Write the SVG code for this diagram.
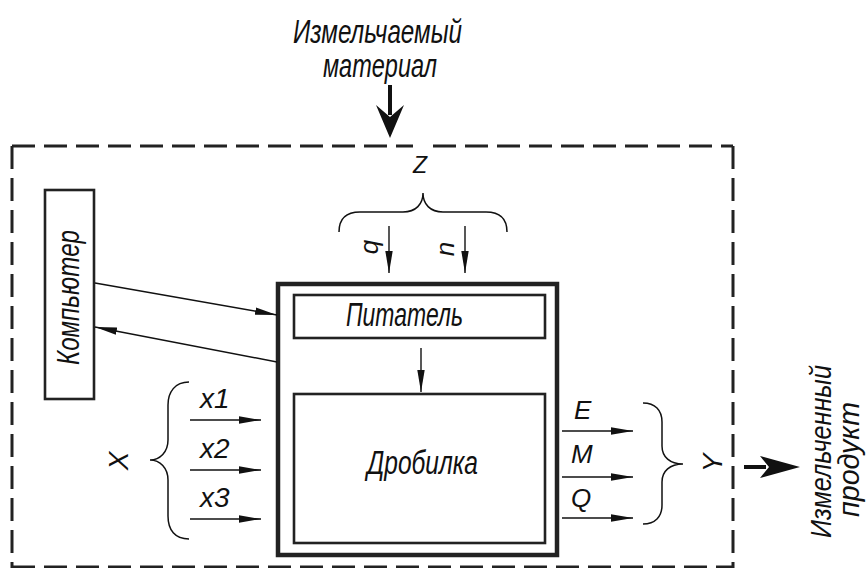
<svg xmlns="http://www.w3.org/2000/svg" width="867" height="568" viewBox="0 0 867 568">
  <style>
    .lbl { font-family: "Liberation Sans", "DejaVu Sans", sans-serif; font-style: italic; fill: #111; }
    .box { fill: none; stroke: #222; }
    .thin { fill: none; stroke: #111; stroke-width: 1.4; }
    .brace { fill: none; stroke: #111; stroke-width: 1.5; }
    .dash { fill: none; stroke: #222; stroke-width: 3; stroke-dasharray: 23 9; }
  </style>
  <defs>
    <marker id="head" markerUnits="userSpaceOnUse" markerWidth="24" markerHeight="8" refX="22" refY="4" orient="auto">
      <path d="M0,0.3 L22,4 L0,7.7 z" fill="#111"/>
    </marker>
  </defs>
  <rect width="867" height="568" fill="#fff"/>

  <!-- system boundary (dashed) -->
  <g id="boundary">
    <line class="dash" x1="12" y1="146" x2="413" y2="146"/>
    <line class="dash" x1="433" y1="146" x2="733" y2="146" stroke-dasharray="7 9 23 9"/>
    <line class="dash" x1="12" y1="146" x2="12" y2="568"/>
    <line class="dash" x1="733" y1="146" x2="733" y2="568"/>
    <line class="dash" x1="12" y1="567" x2="733" y2="567"/>
  </g>

  <!-- input material -->
  <g id="input-material">
    <text class="lbl" x="293" y="43" font-size="33" textLength="169" lengthAdjust="spacingAndGlyphs">Измельчаемый</text>
    <text class="lbl" x="323" y="77" font-size="33" textLength="114" lengthAdjust="spacingAndGlyphs">материал</text>
    <line x1="390" y1="85" x2="390" y2="115" stroke="#111" stroke-width="4"/>
    <path d="M390,138 L376,105 L390,117 L404,105 z" fill="#111"/>
  </g>

  <!-- computer -->
  <g id="computer">
    <rect class="box" x="45" y="190" width="49" height="209" stroke-width="2.6"/>
    <text class="lbl" font-size="31" textLength="135" lengthAdjust="spacingAndGlyphs" transform="translate(79,365) rotate(-90)">Компьютер</text>
  </g>

  <!-- crushing unit housing -->
  <g id="unit">
    <rect class="box" x="278" y="284" width="279" height="271" stroke-width="4.5"/>
  </g>

  <!-- feeder -->
  <g id="feeder">
    <rect class="box" x="294" y="295" width="251" height="43" stroke-width="2.6"/>
    <text class="lbl" x="346" y="326" font-size="33" textLength="117" lengthAdjust="spacingAndGlyphs">Питатель</text>
  </g>

  <!-- crusher -->
  <g id="crusher">
    <rect class="box" x="294" y="394" width="251" height="149" stroke-width="2.6"/>
    <text class="lbl" x="367" y="474" font-size="33" textLength="111" lengthAdjust="spacingAndGlyphs">Дробилка</text>
  </g>

  <!-- control parameters Z -->
  <g id="params-z">
    <text class="lbl" x="413" y="173" font-size="23">Z</text>
    <path class="brace" d="M339,232 C339,218 346,212 360,212 L403,212 C416,212 423,204 423,193 C423,204 430,212 443,212 L486,212 C500,212 507,218 507,232"/>
    <text class="lbl" font-size="26" text-anchor="middle" transform="translate(378,247) rotate(-90)">q</text>
    <text class="lbl" font-size="26" text-anchor="middle" transform="translate(454,249) rotate(-90)">n</text>
  </g>

  <!-- input parameters X -->
  <g id="params-x">
    <text class="lbl" font-size="28" text-anchor="middle" transform="translate(128,461) rotate(-90)">X</text>
    <path class="brace" d="M189,382 C175,382 168,392 168,405 L168,440 C168,452 160,460 150,460 C160,460 168,468 168,480 L168,516 C168,530 175,539 189,539"/>
    <text class="lbl" x="200" y="408" font-size="28">x1</text>
    <text class="lbl" x="200" y="458" font-size="28">x2</text>
    <text class="lbl" x="200" y="507" font-size="28">x3</text>
  </g>

  <!-- output parameters Y -->
  <g id="params-y">
    <text class="lbl" x="574" y="419" font-size="26">E</text>
    <text class="lbl" x="571" y="463" font-size="26">M</text>
    <text class="lbl" x="571" y="507" font-size="26">Q</text>
    <path class="brace" d="M643,403 C655,403 662,410 662,422 L662,446 C662,457 670,464 683,464 C670,464 662,471 662,482 L662,505 C662,517 655,524 643,524"/>
    <text class="lbl" font-size="28" text-anchor="middle" transform="translate(722,463) rotate(-90)">Y</text>
  </g>

  <!-- output product -->
  <g id="output-product">
    <line x1="744" y1="467" x2="766" y2="467" stroke="#111" stroke-width="4"/>
    <path d="M800,467 L760,456 L769,467 L760,478 z" fill="#111"/>
    <text class="lbl" font-size="29" textLength="173" lengthAdjust="spacingAndGlyphs" transform="translate(831,538) rotate(-90)">Измельченный</text>
    <text class="lbl" font-size="29" textLength="115" lengthAdjust="spacingAndGlyphs" transform="translate(859,517) rotate(-90)">продукт</text>
  </g>

  <!-- connectors -->
  <g id="connectors">
    <line class="thin" x1="95" y1="283" x2="277" y2="315" marker-end="url(#head)"/>
    <line class="thin" x1="277" y1="362" x2="95" y2="327" marker-end="url(#head)"/>
    <line class="thin" x1="389" y1="226" x2="389" y2="273" marker-end="url(#head)"/>
    <line class="thin" x1="465" y1="226" x2="465" y2="273" marker-end="url(#head)"/>
    <line class="thin" x1="421" y1="348" x2="421" y2="392" marker-end="url(#head)"/>
    <line class="thin" x1="190" y1="420" x2="261" y2="420" marker-end="url(#head)"/>
    <line class="thin" x1="190" y1="470" x2="261" y2="470" marker-end="url(#head)"/>
    <line class="thin" x1="190" y1="519" x2="261" y2="519" marker-end="url(#head)"/>
    <line class="thin" x1="562" y1="431" x2="633" y2="431" marker-end="url(#head)"/>
    <line class="thin" x1="562" y1="477" x2="633" y2="477" marker-end="url(#head)"/>
    <line class="thin" x1="562" y1="518" x2="633" y2="518" marker-end="url(#head)"/>
  </g>
</svg>
